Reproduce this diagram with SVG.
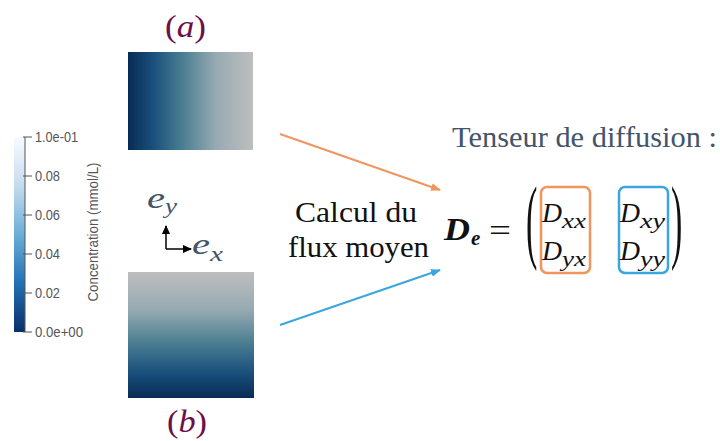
<svg xmlns="http://www.w3.org/2000/svg" width="720" height="441" viewBox="0 0 720 441">
<style>
.tick{stroke:#555;stroke-width:1}
.cb{font-family:"Liberation Sans",Arial,sans-serif;font-size:14px;fill:#555}
.lab{font-family:"Liberation Serif","Times New Roman",serif;fill:#6d1048;font-size:31px}
.ax{font-family:"Liberation Serif","Times New Roman",serif;font-style:italic;fill:#44546a}
.tx{font-family:"Liberation Serif","Times New Roman",serif;font-size:30px;fill:#111}
.m{font-family:"Liberation Serif","Times New Roman",serif;font-style:italic;fill:#111}
.par{font-family:"Liberation Serif","Times New Roman",serif;font-size:34px;fill:#111}
</style>
<defs>
<linearGradient id="gcb" x1="0" y1="1" x2="0" y2="0">
<stop offset="0" stop-color="#08306b"/>
<stop offset="0.25" stop-color="#2171b5"/>
<stop offset="0.5" stop-color="#6baed6"/>
<stop offset="0.75" stop-color="#c6dbef"/>
<stop offset="1" stop-color="#f7fbff"/>
</linearGradient>
<linearGradient id="ga" x1="0" y1="0" x2="1" y2="0">
<stop offset="0" stop-color="#082b55"/>
<stop offset="0.2" stop-color="#19507c"/>
<stop offset="0.45" stop-color="#4e8093"/>
<stop offset="0.7" stop-color="#96aab2"/>
<stop offset="1" stop-color="#bebebe"/>
</linearGradient>
<linearGradient id="gb" x1="0" y1="1" x2="0" y2="0">
<stop offset="0" stop-color="#082b55"/>
<stop offset="0.2" stop-color="#19507c"/>
<stop offset="0.45" stop-color="#4e8093"/>
<stop offset="0.7" stop-color="#96aab2"/>
<stop offset="1" stop-color="#bebebe"/>
</linearGradient>
<marker id="mo" markerWidth="10" markerHeight="8" refX="9" refY="4" orient="auto" markerUnits="userSpaceOnUse"><path d="M0,0 L10,4 L0,8 Z" fill="#f0955e"/></marker>
<marker id="mb" markerWidth="10" markerHeight="8" refX="9" refY="4" orient="auto" markerUnits="userSpaceOnUse"><path d="M0,0 L10,4 L0,8 Z" fill="#3aa6dd"/></marker>
<marker id="mk" markerWidth="9" markerHeight="8" refX="8" refY="4" orient="auto" markerUnits="userSpaceOnUse"><path d="M0,0 L9,4 L0,8 Z" fill="#000"/></marker>
</defs>

<g id="colorbar">
<rect x="14" y="137" width="11" height="195" fill="url(#gcb)"/>
<line class="tick" x1="25" y1="137" x2="25" y2="332"/>
<line class="tick" x1="23" y1="137" x2="32" y2="137"/>
<line class="tick" x1="23" y1="176" x2="32" y2="176"/>
<line class="tick" x1="23" y1="215" x2="32" y2="215"/>
<line class="tick" x1="23" y1="254" x2="32" y2="254"/>
<line class="tick" x1="23" y1="293" x2="32" y2="293"/>
<line class="tick" x1="23" y1="332" x2="32" y2="332"/>
<text class="cb" x="35" y="142" textLength="43" lengthAdjust="spacingAndGlyphs">1.0e-01</text>
<text class="cb" x="35" y="181" textLength="25" lengthAdjust="spacingAndGlyphs">0.08</text>
<text class="cb" x="35" y="220" textLength="25" lengthAdjust="spacingAndGlyphs">0.06</text>
<text class="cb" x="35" y="259" textLength="25" lengthAdjust="spacingAndGlyphs">0.04</text>
<text class="cb" x="35" y="298" textLength="25" lengthAdjust="spacingAndGlyphs">0.02</text>
<text class="cb" x="35" y="337" textLength="48" lengthAdjust="spacingAndGlyphs">0.0e+00</text>
<text class="cb" text-anchor="middle" transform="translate(98,232) rotate(-90)" textLength="139" lengthAdjust="spacingAndGlyphs">Concentration (mmol/L)</text>
</g>

<g id="field-a">
<rect x="128" y="52" width="125" height="98" fill="url(#ga)"/>
<text class="lab" x="165" y="37" textLength="41" lengthAdjust="spacingAndGlyphs">(<tspan font-style="italic">a</tspan>)</text>
</g>

<g id="field-b">
<rect x="128" y="272" width="126" height="126" fill="url(#gb)"/>
<text class="lab" x="167" y="432" textLength="40" lengthAdjust="spacingAndGlyphs">(<tspan font-style="italic">b</tspan>)</text>
</g>

<g id="axes">
<line x1="166" y1="249" x2="166" y2="226" stroke="#000" stroke-width="1.5" marker-end="url(#mk)"/>
<line x1="166" y1="249" x2="191" y2="249" stroke="#000" stroke-width="1.5" marker-end="url(#mk)"/>
<text class="ax" x="147" y="208" font-size="30" textLength="18" lengthAdjust="spacingAndGlyphs">e</text>
<text class="ax" x="165" y="213" font-size="20" textLength="12" lengthAdjust="spacingAndGlyphs">y</text>
<text class="ax" x="192" y="254" font-size="30" textLength="18" lengthAdjust="spacingAndGlyphs">e</text>
<text class="ax" x="210" y="261" font-size="20" textLength="13" lengthAdjust="spacingAndGlyphs">x</text>
</g>

<g id="connectors">
<line x1="280" y1="134" x2="440" y2="190" stroke="#f0955e" stroke-width="2" marker-end="url(#mo)"/>
<line x1="280" y1="325" x2="440" y2="270" stroke="#3aa6dd" stroke-width="2" marker-end="url(#mb)"/>
</g>

<g id="calcul">
<text class="tx" x="295" y="222" textLength="122" lengthAdjust="spacingAndGlyphs">Calcul du</text>
<text class="tx" x="288" y="257" textLength="141" lengthAdjust="spacingAndGlyphs">flux moyen</text>
</g>

<g id="tenseur">
<text class="tx" x="452" y="147" style="fill:#44546a" textLength="265" lengthAdjust="spacingAndGlyphs">Tenseur de diffusion :</text>
<text class="m" x="444" y="240" font-size="31" font-weight="bold" textLength="26" lengthAdjust="spacingAndGlyphs">D</text>
<text class="m" x="471" y="245" font-size="21" font-weight="bold">e</text>
<text x="489" y="241" font-family="'Liberation Serif',serif" font-size="32" fill="#111" textLength="22" lengthAdjust="spacingAndGlyphs">=</text>
<text class="par" transform="translate(526,251) scale(1,2.75)">(</text>
<text class="par" transform="translate(671,251) scale(1,2.75)">)</text>
<rect x="541" y="187" width="49" height="86" rx="6" fill="none" stroke="#f0955e" stroke-width="2.5"/>
<rect x="619" y="187" width="49" height="86" rx="6" fill="none" stroke="#3aa6dd" stroke-width="2.5"/>
<text class="m" x="542" y="222" font-size="27" textLength="20" lengthAdjust="spacingAndGlyphs">D</text>
<text class="m" x="562" y="228" font-size="21" textLength="24" lengthAdjust="spacingAndGlyphs">xx</text>
<text class="m" x="542" y="260" font-size="27" textLength="20" lengthAdjust="spacingAndGlyphs">D</text>
<text class="m" x="562" y="266" font-size="21" textLength="24" lengthAdjust="spacingAndGlyphs">yx</text>
<text class="m" x="620" y="222" font-size="27" textLength="20" lengthAdjust="spacingAndGlyphs">D</text>
<text class="m" x="640" y="228" font-size="21" textLength="25" lengthAdjust="spacingAndGlyphs">xy</text>
<text class="m" x="620" y="260" font-size="27" textLength="20" lengthAdjust="spacingAndGlyphs">D</text>
<text class="m" x="640" y="266" font-size="21" textLength="25" lengthAdjust="spacingAndGlyphs">yy</text>
</g>
</svg>
